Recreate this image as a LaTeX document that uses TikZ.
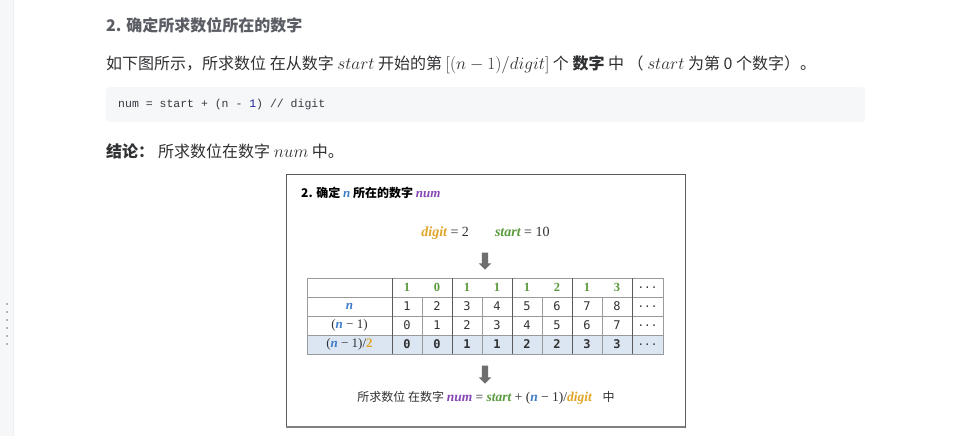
\documentclass[tikz,border=0pt]{standalone}
\usepackage[no-math]{fontspec}
\setmainfont{Noto Sans CJK SC}
\setmonofont{Liberation Mono}
\newfontfamily\figserif{Liberation Serif}
\newfontfamily\digits{DejaVu Sans Mono}
\usetikzlibrary{shapes.arrows}

\definecolor{headgray}{HTML}{5A5D64}
\definecolor{textdark}{HTML}{303133}
\definecolor{codebg}{HTML}{F6F7F9}
\definecolor{codetext}{HTML}{383A42}
\definecolor{codeblue}{HTML}{1C1CA0}
\definecolor{nblue}{HTML}{3E7DC8}
\definecolor{numpurple}{HTML}{8447B5}
\definecolor{digitgold}{HTML}{DFA526}
\definecolor{startgreen}{HTML}{5A9A3C}
\definecolor{rowblue}{HTML}{DCE6F2}
\definecolor{gridgray}{HTML}{9A9A9A}
\definecolor{groupgray}{HTML}{5A5A5A}
\definecolor{arrowgray}{HTML}{6E6E6E}
\definecolor{framegray}{HTML}{5C5C5C}
\definecolor{stripbg}{HTML}{F6F7F9}
\definecolor{stripline}{HTML}{ECEEF1}
\definecolor{dotgray}{HTML}{B4B6BA}

\newcommand\figvar[2]{\textcolor{#1}{\figserif\bfseries\itshape #2}}
\newcommand\pagemath[1]{{\fontsize{16.5}{18}\selectfont$#1$}}

\begin{document}
\begin{tikzpicture}[x=1pt,y=-1pt,
    every node/.style={inner sep=0pt},
    pagetext/.style={anchor=west, text=textdark, font=\fontsize{16}{19}\selectfont},
    figtext/.style={text=textdark, font=\fontsize{12}{14}\selectfont},
    headnum/.style={text=startgreen, font=\figserif\bfseries\fontsize{12.5}{14}\selectfont},
    cellnum/.style={text=textdark, font=\digits\fontsize{12}{14}\selectfont},
    boldnum/.style={text=textdark, font=\digits\bfseries\fontsize{12}{14}\selectfont},
    rowlabel/.style={text=textdark, font=\figserif\fontsize{13}{15}\selectfont},
    downarrow/.style={single arrow, shape border rotate=270, fill=arrowgray,
      inner sep=3pt, single arrow head extend=3pt, single arrow head indent=0pt,
      minimum height=17pt},
    thingrid/.style={draw=gridgray, line width=0.6pt},
    groupline/.style={draw=groupgray, line width=0.9pt}]
  \useasboundingbox[fill=white] (0,0) rectangle (960,436);

  % side strip
  \fill[stripbg] (0,0) rectangle (13,436);
  \draw[stripline] (13,0) -- (13,436);
  \foreach \y in {303,311,...,343}
    \fill[dotgray] (6,\y) rectangle (8,\y+2);

  % page text
  \node[anchor=west, text=headgray, font=\fontsize{16}{19}\selectfont\bfseries]
    (heading) at (106,25) {2. 确定所求数位所在的数字};
  \node[pagetext] (para) at (106,65)
    {如下图所示，所求数位 在从数字 \pagemath{start} 开始的第 \pagemath{[(n-1)/digit]} 个 \textbf{数字} 中 （ \pagemath{start} 为第 0 个数字）。};
  \node[fill=codebg, rounded corners=3pt, minimum width=759pt, minimum height=35pt,
    anchor=north west] (codebox) at (106,87) {};
  \node[anchor=west, text=codetext, font=\ttfamily\fontsize{11.5}{14}\selectfont]
    (code) at (118,105) {num = start + (n - \textcolor{codeblue}{1}) // digit};
  \node[pagetext] (concl) at (106,151)
    {\textbf{结论：}\hspace{4pt}所求数位在数字 \pagemath{num} 中。};

  % figure
  \draw[framegray, line width=0.8pt] (286,174) rectangle (685,427);
  \draw[gray, line width=1.4pt] (286,427) -- (685,427);
  \node[anchor=west, text=black, font=\fontsize{12}{14}\selectfont\bfseries] (figtitle) at (301,193)
    {2. 确定 {\fontsize{13}{14}\selectfont\figvar{nblue}{n}} 所在的数字 {\fontsize{13}{14}\selectfont\figvar{numpurple}{num}}};
  \node[rowlabel, font=\figserif\fontsize{14}{16}\selectfont] (vars) at (485.5,233)
    {\figvar{digitgold}{digit} = 2\hspace{26pt}\figvar{startgreen}{start} = 10};
  \node[downarrow] (arrowA) at (485,259.5) {};

  % table
  \fill[rowblue] (307,335) rectangle (663,354);
  \foreach \y in {297,316,335}
    \draw[thingrid] (307,\y) -- (663,\y);
  \foreach \x in {422,482,542,602}
    \draw[thingrid] (\x,297) -- (\x,354);
  \draw[thingrid] (307,278) rectangle (663,354);
  \foreach \x in {392,452,512,572,632}
    \draw[groupline] (\x,278) -- (\x,354);

  \node[rowlabel] (lab1) at (349.5,306.5) {\figvar{nblue}{n}};
  \node[rowlabel] (lab2) at (349.5,325.5) {(\figvar{nblue}{n} − 1)};
  \node[rowlabel] (lab3) at (349.5,344.5) {(\figvar{nblue}{n} − 1)/\textcolor{digitgold}{\bfseries 2}};
  \foreach \v [count=\i] in {1,0,1,1,1,2,1,3}
    \node[headnum] (h\i) at (377+30*\i,287.5) {\v};
  \foreach \i [evaluate=\i as \m using int(\i-1),
      evaluate=\i as \q using int((\i-1)/2)] in {1,...,8} {
    \node[cellnum] (n\i) at (377+30*\i,306.5) {\i};
    \node[cellnum] (m\i) at (377+30*\i,325.5) {\m};
    \node[boldnum] (q\i) at (377+30*\i,344.5) {\q};
  }
  \foreach \y [count=\j] in {287.5,306.5,325.5,344.5}
    \node[cellnum, font=\digits\fontsize{11}{12}\selectfont] (dots\j) at (647.5,\y) {...};

  \node[downarrow, minimum height=18pt] (arrowB) at (485,373) {};
  \node[figtext] (result) at (486,398)
    {所求数位 在数字 {\figserif\fontsize{13.5}{15}\selectfont\figvar{numpurple}{num} = \figvar{startgreen}{start} + (\figvar{nblue}{n} − 1)/\figvar{digitgold}{digit}}\hspace{8pt} 中};
\end{tikzpicture}
\end{document}
